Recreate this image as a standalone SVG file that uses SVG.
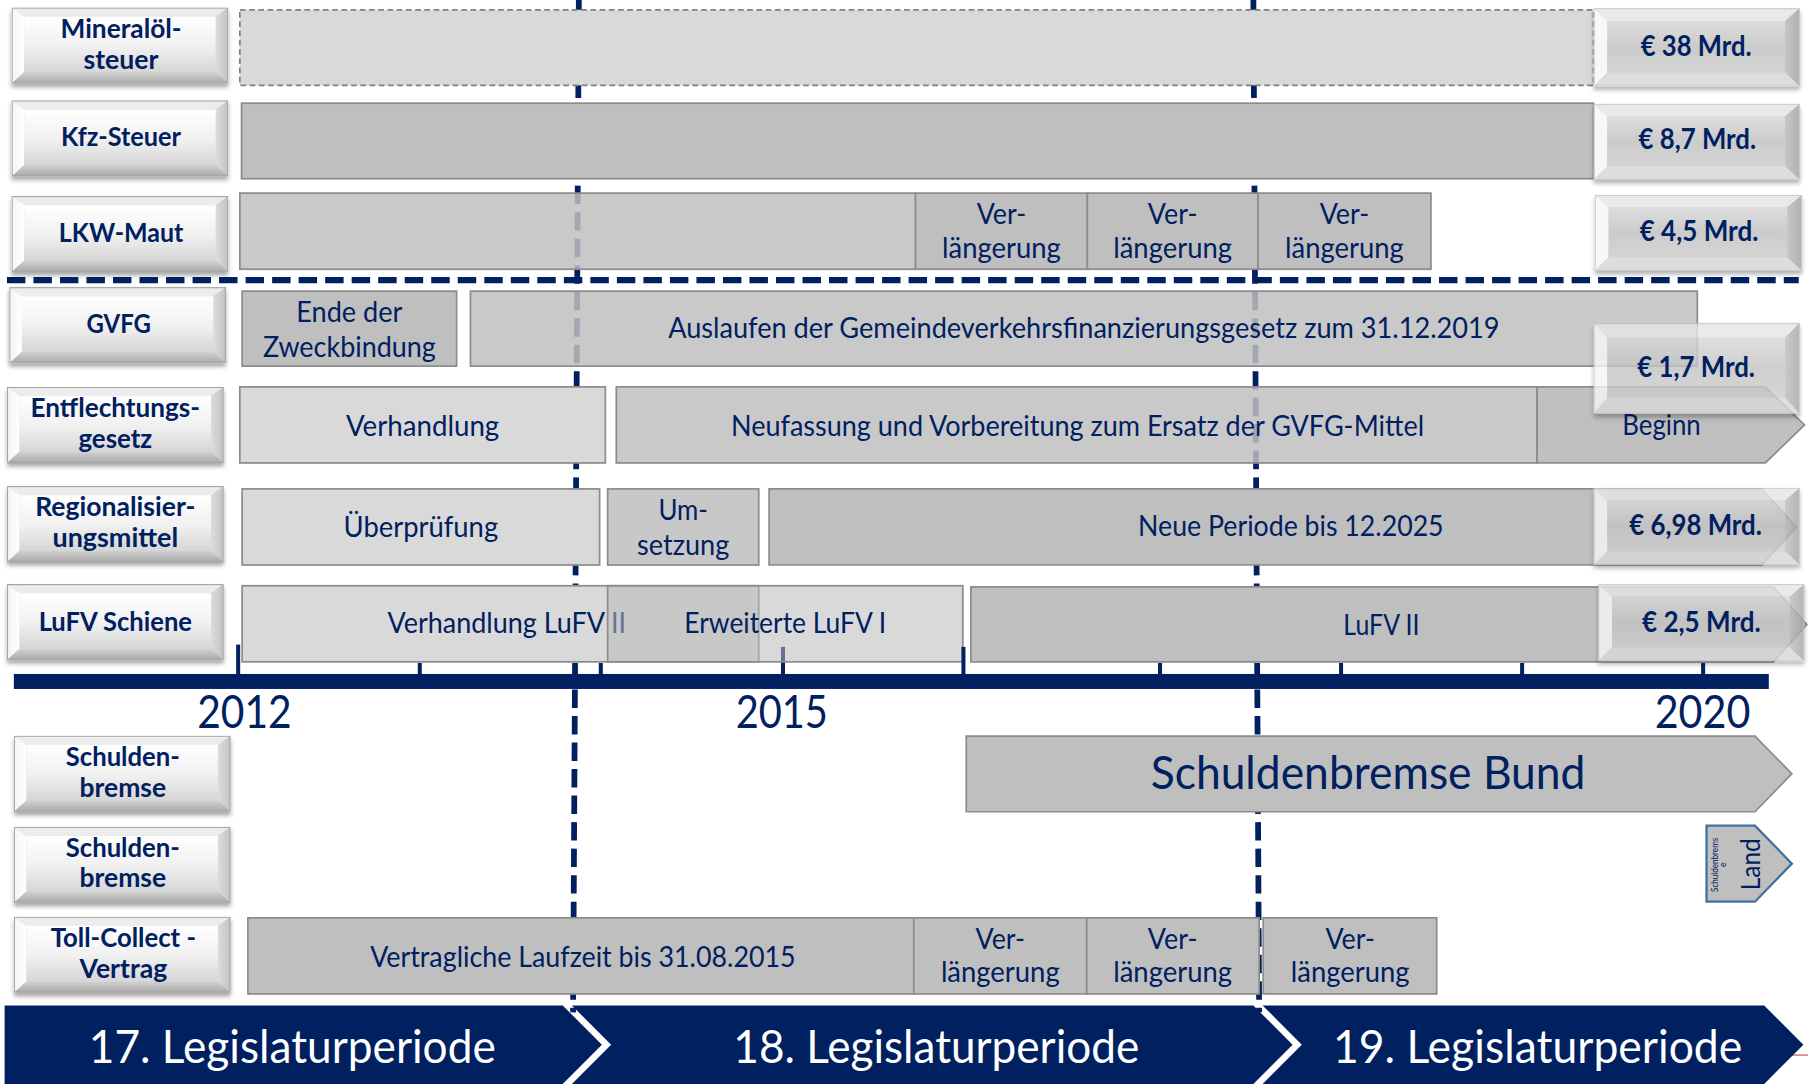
<svg xmlns="http://www.w3.org/2000/svg" width="1808" height="1084" viewBox="0 0 1808 1084">
<defs>
<style>
text{font-family:Lato,"Open Sans","Liberation Sans",sans-serif;fill:#002060}
.lb{font-weight:700;font-size:23px;text-anchor:middle}
.vl{font-weight:700;font-size:24px;text-anchor:middle}
.bt{font-size:25px;text-anchor:middle}
.yr{font-size:40px;text-anchor:middle}
.lp{font-size:41px;text-anchor:middle;fill:#ffffff}
.b1{fill:#d9d9d9;stroke:#8c8c8c;stroke-width:1.5}
.b2{fill:#c8c8c8;stroke:#8c8c8c;stroke-width:1.5}
.b3{fill:#bfbfbf;stroke:#8c8c8c;stroke-width:1.5}
.bs{fill:#bfbfbf;fill-opacity:0.85;stroke:#8c8c8c;stroke-width:1.5}
.vd{fill:none;stroke:#002060;stroke-width:5;stroke-dasharray:16 7}
.hd{fill:none;stroke:#002060;stroke-width:5.5;stroke-dasharray:16 7}
.tk{fill:#002060}
.chev{fill:#002060}
</style>
<linearGradient id="gFace" x1="0" y1="0" x2="0" y2="1">
<stop offset="0" stop-color="#ffffff"/><stop offset="0.55" stop-color="#f0f0f0"/><stop offset="1" stop-color="#d6d6d6"/>
</linearGradient>
<linearGradient id="gLeft" x1="0" y1="0" x2="1" y2="0">
<stop offset="0" stop-color="#f4f4f4"/><stop offset="1" stop-color="#ffffff"/>
</linearGradient>
<linearGradient id="gRight" x1="0" y1="0" x2="1" y2="0">
<stop offset="0" stop-color="#dcdcdc"/><stop offset="1" stop-color="#c2c2c2"/>
</linearGradient>
<linearGradient id="gBot" x1="0" y1="0" x2="0" y2="1">
<stop offset="0" stop-color="#d2d2d2"/><stop offset="1" stop-color="#a8a8a8"/>
</linearGradient>
<linearGradient id="gVF" x1="0" y1="0" x2="0" y2="1">
<stop offset="0" stop-color="#d8d8d8"/><stop offset="0.5" stop-color="#c3c3c3"/><stop offset="1" stop-color="#cdcdcd"/>
</linearGradient>
<linearGradient id="gVR" x1="0" y1="0" x2="1" y2="0">
<stop offset="0" stop-color="#bdbdbd"/><stop offset="1" stop-color="#a2a2a2"/>
</linearGradient>
<filter id="sh" x="-10%" y="-10%" width="125%" height="150%">
<feDropShadow dx="0" dy="3" stdDeviation="2" flood-color="#000000" flood-opacity="0.35"/>
</filter>
<symbol id="lblBox" viewBox="0 0 188 66" preserveAspectRatio="none">
<rect x="0" y="0" width="188" height="66" fill="#dcdcdc"/>
<polygon points="0,0 188,0 177,8 11,8" fill="#ececec"/>
<polygon points="0,0 11,8 11,56 0,66" fill="url(#gLeft)"/>
<polygon points="188,0 177,8 177,56 188,66" fill="url(#gRight)"/>
<polygon points="0,66 11,56 177,56 188,66" fill="url(#gBot)"/>
<rect x="11" y="8" width="166" height="48" fill="url(#gFace)"/>
<rect x="0.5" y="0.5" width="187" height="65" fill="none" stroke="#a6a6a6" stroke-width="1"/>
</symbol>
<symbol id="valBox" viewBox="0 0 179 67" preserveAspectRatio="none">
<rect x="0" y="0" width="179" height="67" fill="#c8c8c8"/>
<polygon points="0,0 179,0 166,11 12,11" fill="#e6e6e6"/>
<polygon points="0,0 12,11 12,55 0,67" fill="#f6f6f6"/>
<polygon points="179,0 166,11 166,55 179,67" fill="url(#gVR)"/>
<polygon points="0,67 12,55 166,55 179,67" fill="#d8d8d8"/>
<rect x="12" y="11" width="154" height="44" fill="url(#gVF)"/>
<rect x="0.5" y="0.5" width="178" height="66" fill="none" stroke="#c4c4c4" stroke-width="1"/>
</symbol>
</defs>
<rect x="0" y="0" width="1808" height="1084" fill="#ffffff"/>
<g transform="scale(1.153061)">

<g id="connectors">
<path class="vd" d="M502,0 L497,878"/>
<path class="vd" d="M1087,0 L1092,878"/>
<path class="hd" d="M6,243 L1560,243"/>
</g>

<g id="axis-ticks-under">
<rect class="tk" x="677.3" y="561" width="3.5" height="24"/>
</g>

<g id="row-mineraloel">
<rect x="208" y="8.5" width="1174" height="65.5" fill="#d9d9d9" stroke="#808080" stroke-width="1.5" stroke-dasharray="5 3"/>
</g>
<g id="row-kfz">
<rect class="b3" x="209.5" y="89.5" width="1172.5" height="65.5"/>
</g>
<g id="row-lkw">
<rect class="bs" x="208" y="167.5" width="586" height="66"/>
<rect class="b3" x="794" y="167.5" width="149" height="66"/>
<rect class="b3" x="943" y="167.5" width="148" height="66"/>
<rect class="b3" x="1091" y="167.5" width="150" height="66"/>
<text class="bt" x="868.5" y="194" textLength="43" lengthAdjust="spacingAndGlyphs">Ver-</text>
<text class="bt" x="868.5" y="224" textLength="103" lengthAdjust="spacingAndGlyphs">längerung</text>
<text class="bt" x="1017" y="194" textLength="43" lengthAdjust="spacingAndGlyphs">Ver-</text>
<text class="bt" x="1017" y="224" textLength="103" lengthAdjust="spacingAndGlyphs">längerung</text>
<text class="bt" x="1166" y="194" textLength="43" lengthAdjust="spacingAndGlyphs">Ver-</text>
<text class="bt" x="1166" y="224" textLength="103" lengthAdjust="spacingAndGlyphs">längerung</text>
</g>
<g id="row-gvfg">
<rect class="b3" x="210" y="252.5" width="186" height="65"/>
<text class="bt" x="303" y="279" textLength="92" lengthAdjust="spacingAndGlyphs">Ende der</text>
<text class="bt" x="303" y="310" textLength="150" lengthAdjust="spacingAndGlyphs">Zweckbindung</text>
<rect class="bs" x="408" y="252.5" width="1064" height="65"/>
<text class="bt" x="940" y="293" textLength="721" lengthAdjust="spacingAndGlyphs">Auslaufen der Gemeindeverkehrsfinanzierungsgesetz zum 31.12.2019</text>
</g>
<g id="row-entflechtung">
<rect class="b1" x="208" y="335.5" width="317" height="66"/>
<text class="bt" x="366.5" y="378" textLength="133" lengthAdjust="spacingAndGlyphs">Verhandlung</text>
<rect class="bs" x="534.5" y="335.5" width="798.5" height="66"/>
<text class="bt" x="934.5" y="378" textLength="601" lengthAdjust="spacingAndGlyphs">Neufassung und Vorbereitung zum Ersatz der GVFG-Mittel</text>
<path class="b3" d="M1333,335.5 L1531,335.5 L1565,368.5 L1531,401.5 L1333,401.5 Z"/>
<text class="bt" x="1441" y="377" textLength="68" lengthAdjust="spacingAndGlyphs">Beginn</text>
</g>
<g id="row-regionalisierung">
<rect class="b1" x="210" y="424" width="310" height="66"/>
<text class="bt" x="365" y="465.5" textLength="134" lengthAdjust="spacingAndGlyphs">Überprüfung</text>
<rect class="b2" x="527" y="424" width="131" height="66"/>
<text class="bt" x="592.5" y="451" textLength="43" lengthAdjust="spacingAndGlyphs">Um-</text>
<text class="bt" x="592.5" y="481" textLength="80" lengthAdjust="spacingAndGlyphs">setzung</text>
<path class="b3" d="M667,424 L1528,424 L1558,457 L1528,490 L667,490 Z"/>
<text class="bt" x="1119.5" y="465" textLength="265" lengthAdjust="spacingAndGlyphs">Neue Periode bis 12.2025</text>
</g>
<g id="row-lufv">
<rect class="b1" x="210" y="508" width="448" height="66"/>
<text class="bt" x="439.5" y="549" textLength="207" lengthAdjust="spacingAndGlyphs">Verhandlung LuFV II</text>
<rect x="527" y="508" width="308" height="66" fill="#bababa" fill-opacity="0.55" stroke="#8c8c8c" stroke-width="1.5"/>
<text class="bt" x="681" y="549" textLength="175" lengthAdjust="spacingAndGlyphs">Erweiterte LuFV I</text>
<path class="b3" d="M842,509 L1538,509 L1567,541.5 L1538,574 L842,574 Z"/>
<text class="bt" x="1198" y="551" textLength="66" lengthAdjust="spacingAndGlyphs">LuFV II</text>
</g>
<g id="row-schuldenbremse-bund">
<path class="b3" d="M838,638.5 L1522,638.5 L1554,671 L1522,704 L838,704 Z"/>
<text x="1186.5" y="684" font-size="41" text-anchor="middle" textLength="377" lengthAdjust="spacingAndGlyphs">Schuldenbremse Bund</text>
</g>
<g id="row-schuldenbremse-land">
<path d="M1480,716 L1522,716 L1554,749 L1522,782 L1480,782 Z" fill="#bfbfbf" stroke="#41719c" stroke-width="2"/>
<text transform="translate(1490,750) rotate(-90)" font-size="7.5" text-anchor="middle" textLength="47" lengthAdjust="spacingAndGlyphs">Schuldenbrems</text>
<text transform="translate(1497,750) rotate(-90)" font-size="7.5" text-anchor="middle">e</text>
<text transform="translate(1526,749.5) rotate(-90)" font-size="24" text-anchor="middle" textLength="45" lengthAdjust="spacingAndGlyphs">Land</text>
</g>
<g id="row-toll">
<rect class="b3" x="215" y="796" width="577.5" height="66"/>
<text class="bt" x="505.5" y="838.5" textLength="369" lengthAdjust="spacingAndGlyphs">Vertragliche Laufzeit bis 31.08.2015</text>
<rect class="b3" x="792.5" y="796" width="150" height="66"/>
<rect class="b3" x="942.5" y="796" width="149.5" height="66"/>
<rect class="b3" x="1095.5" y="796" width="150.5" height="66"/>
<text class="bt" x="867.5" y="823" textLength="43" lengthAdjust="spacingAndGlyphs">Ver-</text>
<text class="bt" x="867.5" y="852" textLength="103" lengthAdjust="spacingAndGlyphs">längerung</text>
<text class="bt" x="1017" y="823" textLength="43" lengthAdjust="spacingAndGlyphs">Ver-</text>
<text class="bt" x="1017" y="852" textLength="103" lengthAdjust="spacingAndGlyphs">längerung</text>
<text class="bt" x="1171" y="823" textLength="43" lengthAdjust="spacingAndGlyphs">Ver-</text>
<text class="bt" x="1171" y="852" textLength="103" lengthAdjust="spacingAndGlyphs">längerung</text>
</g>

<g id="label-mineraloelsteuer">
<use href="#lblBox" x="10" y="6.5" width="188" height="66" filter="url(#sh)"/>
<text class="lb" x="105" y="33" textLength="105" lengthAdjust="spacingAndGlyphs">Mineralöl-</text>
<text class="lb" x="105" y="59.5" textLength="65" lengthAdjust="spacingAndGlyphs">steuer</text>
</g>
<g id="label-kfz">
<use href="#lblBox" x="10" y="87" width="188" height="66" filter="url(#sh)"/>
<text class="lb" x="105" y="127" textLength="104" lengthAdjust="spacingAndGlyphs">Kfz-Steuer</text>
</g>
<g id="label-lkw">
<use href="#lblBox" x="10" y="170" width="188" height="66" filter="url(#sh)"/>
<text class="lb" x="105" y="210" textLength="108" lengthAdjust="spacingAndGlyphs">LKW-Maut</text>
</g>
<g id="label-gvfg">
<use href="#lblBox" x="8" y="249" width="188" height="66" filter="url(#sh)"/>
<text class="lb" x="103" y="289" textLength="56" lengthAdjust="spacingAndGlyphs">GVFG</text>
</g>
<g id="label-entflechtung">
<use href="#lblBox" x="6" y="335.5" width="188" height="66" filter="url(#sh)"/>
<text class="lb" x="100" y="362" textLength="147" lengthAdjust="spacingAndGlyphs">Entflechtungs-</text>
<text class="lb" x="100" y="388.5" textLength="64" lengthAdjust="spacingAndGlyphs">gesetz</text>
</g>
<g id="label-regionalisierung">
<use href="#lblBox" x="6" y="421.5" width="188" height="66" filter="url(#sh)"/>
<text class="lb" x="100" y="447.5" textLength="139" lengthAdjust="spacingAndGlyphs">Regionalisier-</text>
<text class="lb" x="100" y="474" textLength="109" lengthAdjust="spacingAndGlyphs">ungsmittel</text>
</g>
<g id="label-lufv">
<use href="#lblBox" x="6" y="506.5" width="188" height="66" filter="url(#sh)"/>
<text class="lb" x="100" y="547" textLength="133" lengthAdjust="spacingAndGlyphs">LuFV Schiene</text>
</g>
<g id="label-schuldenbremse-1">
<use href="#lblBox" x="12" y="638" width="188" height="66" filter="url(#sh)"/>
<text class="lb" x="106.5" y="664.5" textLength="99" lengthAdjust="spacingAndGlyphs">Schulden-</text>
<text class="lb" x="106.5" y="691" textLength="75" lengthAdjust="spacingAndGlyphs">bremse</text>
</g>
<g id="label-schuldenbremse-2">
<use href="#lblBox" x="12" y="717" width="188" height="66" filter="url(#sh)"/>
<text class="lb" x="106.5" y="743" textLength="99" lengthAdjust="spacingAndGlyphs">Schulden-</text>
<text class="lb" x="106.5" y="769.5" textLength="75" lengthAdjust="spacingAndGlyphs">bremse</text>
</g>
<g id="label-toll-collect">
<use href="#lblBox" x="12" y="795" width="188" height="66" filter="url(#sh)"/>
<text class="lb" x="107" y="821.5" textLength="126" lengthAdjust="spacingAndGlyphs">Toll-Collect -</text>
<text class="lb" x="107" y="848" textLength="76" lengthAdjust="spacingAndGlyphs">Vertrag</text>
</g>

<g id="value-38">
<use href="#valBox" x="1382" y="7" width="179" height="68" filter="url(#sh)" opacity="0.85"/>
<text class="vl" x="1471" y="49" textLength="96" lengthAdjust="spacingAndGlyphs">€ 38 Mrd.</text>
</g>
<g id="value-8-7">
<use href="#valBox" x="1382" y="90" width="179" height="66" filter="url(#sh)" opacity="0.85"/>
<text class="vl" x="1472" y="129" textLength="102" lengthAdjust="spacingAndGlyphs">€ 8,7 Mrd.</text>
</g>
<g id="value-4-5">
<use href="#valBox" x="1383" y="169" width="180" height="66" filter="url(#sh)" opacity="0.85"/>
<text class="vl" x="1473.5" y="209" textLength="103" lengthAdjust="spacingAndGlyphs">€ 4,5 Mrd.</text>
</g>
<g id="value-1-7">
<use href="#valBox" x="1382" y="280" width="179" height="79" filter="url(#sh)" opacity="0.8"/>
<text class="vl" x="1471" y="327" textLength="102" lengthAdjust="spacingAndGlyphs">€ 1,7 Mrd.</text>
</g>
<g id="value-6-98">
<use href="#valBox" x="1382" y="423" width="179" height="67" filter="url(#sh)" opacity="0.8"/>
<text class="vl" x="1470.5" y="464" textLength="115" lengthAdjust="spacingAndGlyphs">€ 6,98 Mrd.</text>
</g>
<g id="value-2-5">
<use href="#valBox" x="1386" y="506.5" width="179" height="67" filter="url(#sh)" opacity="0.8"/>
<text class="vl" x="1475.5" y="548" textLength="103" lengthAdjust="spacingAndGlyphs">€ 2,5 Mrd.</text>
</g>

<g id="timeline">
<rect class="tk" x="12" y="584.5" width="1522" height="13"/>
<rect class="tk" x="204.8" y="559" width="3.5" height="26"/>
<rect class="tk" x="362.3" y="575" width="3.5" height="10"/>
<rect class="tk" x="519.3" y="575" width="3.5" height="10"/>
<rect class="tk" x="833.8" y="561" width="3.5" height="24"/>
<rect class="tk" x="1004.3" y="575" width="3.5" height="10"/>
<rect class="tk" x="1161.3" y="575" width="3.5" height="10"/>
<rect class="tk" x="1318.3" y="575" width="3.5" height="10"/>
<rect class="tk" x="1475.3" y="575" width="3.5" height="10"/>
<text class="yr" x="212" y="631" textLength="82" lengthAdjust="spacingAndGlyphs">2012</text>
<text class="yr" x="678" y="631" textLength="80" lengthAdjust="spacingAndGlyphs">2015</text>
<text class="yr" x="1476.5" y="631" textLength="83" lengthAdjust="spacingAndGlyphs">2020</text>
</g>

<g id="legislatur-17">
<path class="chev" d="M4,872 L488,872 L522,906 L488,940 L4,940 Z"/>
<text class="lp" x="253.5" y="922" textLength="353" lengthAdjust="spacingAndGlyphs">17. Legislaturperiode</text>
</g>
<g id="legislatur-18">
<path class="chev" d="M496,872 L1087,872 L1121,906 L1087,940 L496,940 L530,906 Z"/>
<text class="lp" x="812" y="922" textLength="352" lengthAdjust="spacingAndGlyphs">18. Legislaturperiode</text>
</g>
<g id="legislatur-19">
<line x1="1552" y1="915" x2="1568" y2="915" stroke="#c0504d" stroke-width="1"/>
<path class="chev" d="M1095,872 L1530,872 L1564,906 L1530,940 L1095,940 L1129,906 Z"/>
<text class="lp" x="1333.5" y="922" textLength="355" lengthAdjust="spacingAndGlyphs">19. Legislaturperiode</text>
</g>
</g>
</svg>
